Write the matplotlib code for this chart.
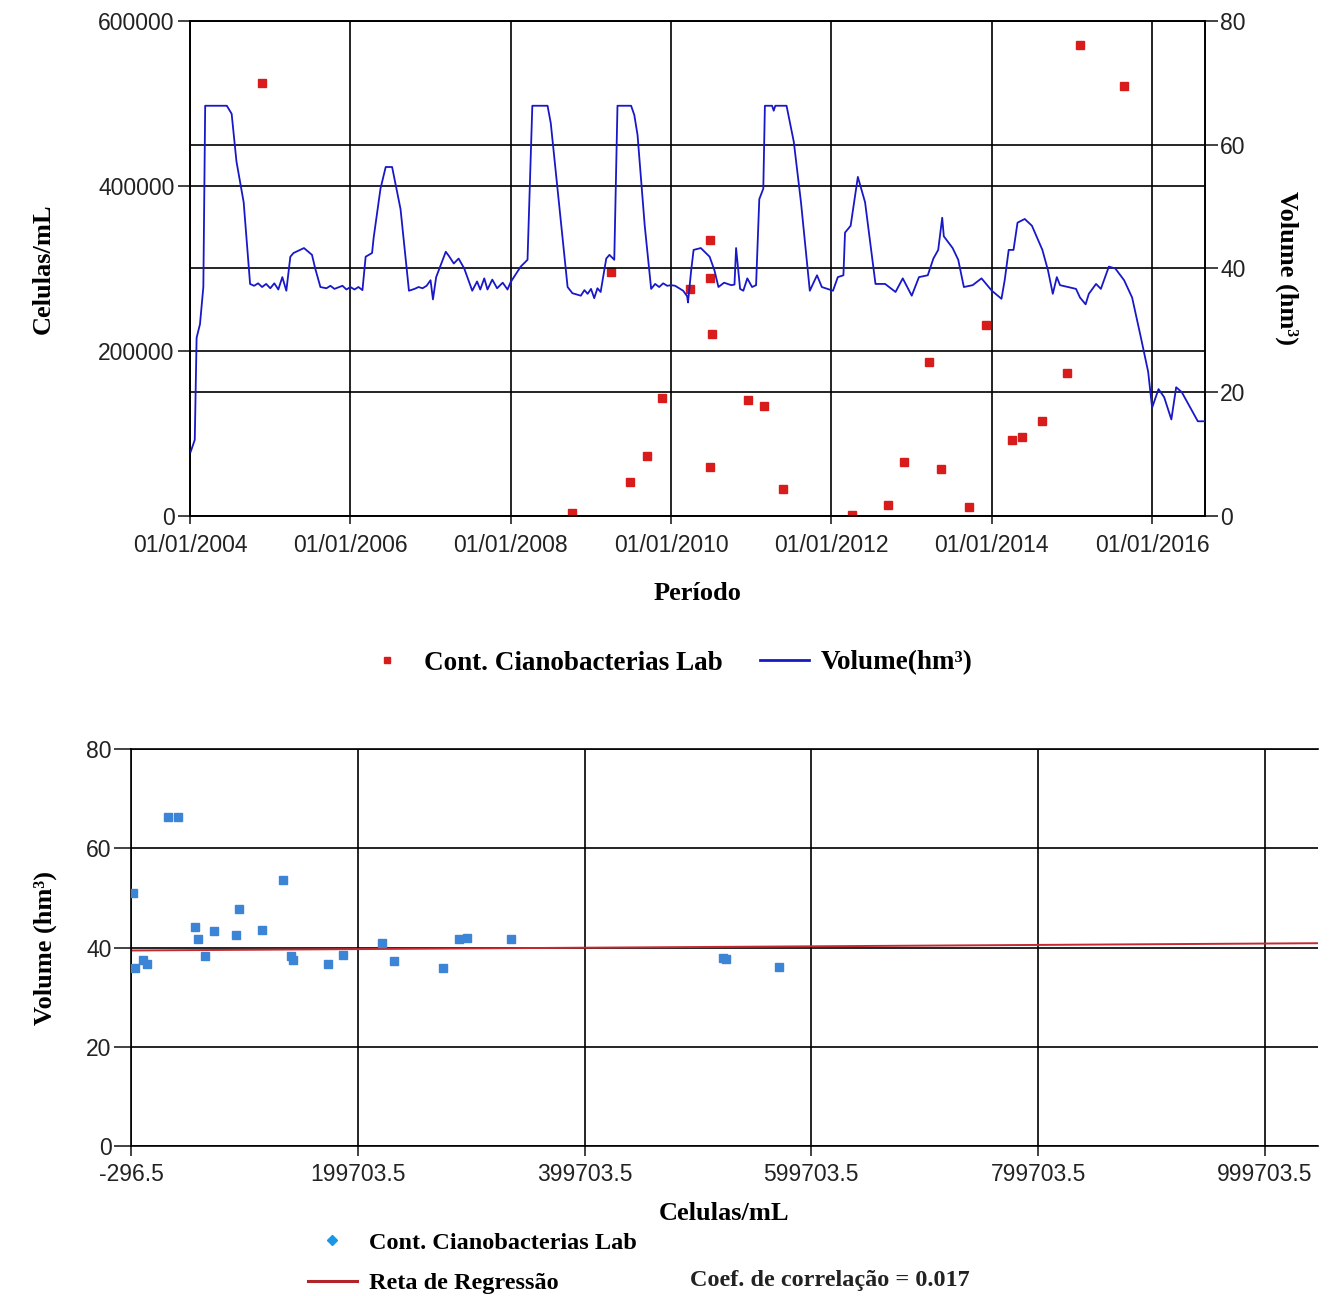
import matplotlib
matplotlib.use("Agg")
import matplotlib.pyplot as plt
import matplotlib.dates as mdates
from matplotlib.lines import Line2D
from matplotlib.ticker import FuncFormatter
from datetime import datetime, timedelta

# Volume trace (hm3), decimal years
vol_year = [2004.01, 2004.06, 2004.083, 2004.125, 2004.167, 2004.19, 2004.46, 2004.52, 2004.58, 2004.67,
            2004.75, 2004.8, 2004.85, 2004.9, 2004.95, 2005.0, 2005.05, 2005.1, 2005.15, 2005.2,
            2005.25, 2005.29, 2005.42, 2005.52, 2005.56, 2005.625, 2005.7, 2005.75, 2005.8, 2005.9,
            2005.95, 2006.0, 2006.05, 2006.1, 2006.15, 2006.19, 2006.27, 2006.29, 2006.375, 2006.44,
            2006.52, 2006.625, 2006.73, 2006.8, 2006.85, 2006.9, 2006.95, 2007.0, 2007.03, 2007.07,
            2007.19, 2007.23, 2007.29, 2007.35, 2007.42, 2007.52, 2007.58, 2007.62, 2007.67, 2007.71,
            2007.77, 2007.83, 2007.9, 2007.96, 2008.0, 2008.125, 2008.21, 2008.27, 2008.46, 2008.5,
            2008.58, 2008.71, 2008.77, 2008.875, 2008.92, 2008.96, 2009.0, 2009.04, 2009.08, 2009.12,
            2009.19, 2009.23, 2009.29, 2009.33, 2009.5, 2009.54, 2009.58, 2009.67, 2009.75, 2009.8,
            2009.85, 2009.9, 2009.95, 2010.0, 2010.05, 2010.1, 2010.15, 2010.2, 2010.21, 2010.25,
            2010.28, 2010.37, 2010.48, 2010.54, 2010.59, 2010.66, 2010.75, 2010.79, 2010.81, 2010.86,
            2010.9, 2010.95, 2011.01, 2011.06, 2011.1, 2011.15, 2011.17, 2011.26, 2011.28, 2011.3,
            2011.44, 2011.53, 2011.62, 2011.73, 2011.82, 2011.88, 2012.02, 2012.08, 2012.15, 2012.17,
            2012.24, 2012.33, 2012.42, 2012.55, 2012.67, 2012.8, 2012.89, 2013.0, 2013.09, 2013.2,
            2013.27, 2013.33, 2013.38, 2013.4, 2013.51, 2013.58, 2013.65, 2013.76, 2013.87, 2014.0,
            2014.12, 2014.16, 2014.21, 2014.27, 2014.32, 2014.41, 2014.5, 2014.63, 2014.7, 2014.76,
            2014.81, 2014.85, 2015.05, 2015.1, 2015.17, 2015.21, 2015.3, 2015.36, 2015.46, 2015.54,
            2015.65, 2015.75, 2015.86, 2015.95, 2016.0, 2016.08, 2016.15, 2016.24, 2016.3, 2016.37,
            2016.57, 2016.66]
vol_value = [10.4, 12.3, 28.8, 31.0, 37.0, 66.3, 66.3, 65.0, 57.3, 50.7,
             37.5, 37.2, 37.6, 37.0, 37.5, 36.8, 37.6, 36.6, 38.6, 36.4,
             41.9, 42.5, 43.3, 42.2, 40.0, 37.0, 36.8, 37.2, 36.7, 37.2,
             36.6, 37.0, 36.6, 37.0, 36.5, 41.9, 42.5, 45.0, 52.9, 56.4,
             56.4, 49.6, 36.4, 36.7, 37.0, 36.8, 37.2, 38.1, 35.0, 38.6,
             42.7, 42.0, 40.8, 41.6, 40.0, 36.4, 37.9, 36.6, 38.4, 36.6,
             38.2, 36.8, 37.7, 36.6, 37.8, 40.3, 41.4, 66.3, 66.3, 63.5,
             53.4, 37.0, 36.0, 35.6, 36.5, 35.9, 36.7, 35.2, 36.8, 36.2,
             41.6, 42.2, 41.4, 66.3, 66.3, 64.8, 61.6, 46.9, 36.7, 37.5,
             37.0, 37.6, 37.2, 37.3, 37.2, 36.8, 36.4, 35.5, 34.5, 39.7,
             43.0, 43.3, 41.9, 39.7, 37.0, 37.7, 37.3, 37.4, 43.3, 36.7,
             36.4, 38.4, 37.0, 37.3, 51.2, 52.9, 66.3, 66.3, 65.5, 66.3,
             66.3, 60.5, 50.7, 36.4, 38.9, 37.0, 36.4, 38.6, 38.9, 45.8,
             46.9, 54.8, 50.7, 37.5, 37.5, 36.2, 38.4, 35.6, 38.6, 38.9,
             41.6, 43.0, 48.2, 45.2, 43.3, 41.4, 37.0, 37.3, 38.4, 36.4,
             35.1, 38.1, 43.0, 43.0, 47.4, 48.0, 46.9, 43.0, 39.7, 35.9,
             38.6, 37.3, 36.7, 35.3, 34.2, 35.9, 37.5, 36.7, 40.3, 40.0,
             38.1, 35.3, 28.8, 23.3, 17.5, 20.5, 19.2, 15.6, 20.8, 20.0,
             15.3, 15.3]

# Lab cyanobacteria samples: date, cells/mL, reservoir volume on that date
sample_year = [2004.90, 2008.77, 2009.25, 2009.48, 2009.70, 2009.88, 2010.23, 2010.49, 2010.49,
               2010.51, 2010.49, 2010.96, 2011.16, 2011.40, 2012.26, 2012.71, 2012.90, 2013.21,
               2013.37, 2013.72, 2013.92, 2014.25, 2014.37, 2014.62, 2014.94, 2015.10, 2015.65]
sample_cells = [524800, 3254, 295578, 41127, 73081, 142907, 274670, 335028, 288872,
                220622, 58879, 140540, 133439, 32053, 1676, 13510, 64797, 186696,
                56512, 10354, 231668, 92017, 95173, 114898, 173283, 571100, 521700]
sample_vol = [37.6, 35.9, 42.0, 66.2, 43.3, 37.5, 35.9, 41.8, 41.8,
              40.9, 41.8, 38.2, 53.6, 66.2, 51.0, 36.7, 38.2, 38.4,
              44.1, 37.4, 37.2, 42.6, 47.7, 43.6, 36.7, 36.0, 37.8]

# regression line
reg_intercept = 39.4
reg_slope = 1.4e-6
corr_coef = 0.017

date_ticks = [2004, 2006, 2008, 2010, 2012, 2014, 2016]
cell_ticks = [-296.5, 199703.5, 399703.5, 599703.5, 799703.5, 999703.5]


def to_dates(years):
    out = []
    for y in years:
        out.append(datetime(int(y), 1, 1) + timedelta(days=(y - int(y)) * 365.25))
    return out


serif = "Liberation Serif"
sans = "Liberation Sans"
plt.rcParams["font.family"] = sans

fig = plt.figure(figsize=(13.33, 12.96), dpi=100)

# ---- top chart: time series ----
ax = fig.add_axes([0.1425, 0.6019, 0.7615, 0.3819])
ax2 = ax.twinx()

ax.plot(to_dates(sample_year), sample_cells, "s", color="#d81c1c", ms=6, zorder=3)
ax2.plot(to_dates(vol_year), vol_value, color="#1818c8", lw=1.3, zorder=3)

ax.set_ylim(0, 600000)
ax.set_yticks([0, 200000, 400000, 600000])
ax.yaxis.set_major_formatter(FuncFormatter(lambda v, p: "%d" % v))
ax2.set_ylim(0, 80)
ax2.set_yticks([0, 20, 40, 60, 80])
ax.set_xlim(datetime(2004, 1, 1), to_dates([2016.66])[0])
ax.set_xticks([datetime(y, 1, 1) for y in date_ticks])
ax.xaxis.set_major_formatter(mdates.DateFormatter("%d/%m/%Y"))

ax.grid(True, color="black", lw=1.2)
ax2.grid(True, axis="y", color="black", lw=1.2)
ax.set_axisbelow(True)
ax2.set_axisbelow(True)
for a in (ax, ax2):
    for s in a.spines.values():
        s.set_color("black")
        s.set_linewidth(1.2)
    a.tick_params(labelsize=16.5, length=9, width=1.2, pad=2, colors="#222222")
ax.tick_params(axis="x", length=6, pad=7)

ax.set_ylabel("Celulas/mL", family=serif, weight="bold", fontsize=19, labelpad=31)
ax2.set_ylabel("Volume (hm³)", family=serif, weight="bold", fontsize=19, rotation=-90, labelpad=38)
ax.set_xlabel("Período", family=serif, weight="bold", fontsize=19, labelpad=18)

top_handles = [Line2D([], [], ls="none", marker="s", color="#d81c1c", ms=5),
               Line2D([], [], color="#1818c8", lw=2)]
fig.legend(top_handles, ["Cont. Cianobacterias Lab", "Volume(hm³)"], loc="center",
           bbox_to_anchor=(0.501, 0.4884), ncol=2, frameon=False,
           prop={"family": serif, "weight": "bold", "size": 19.5}, columnspacing=1.4,
           handlelength=1.8, handletextpad=0.45)

# ---- bottom chart: scatter + regression ----
bx = fig.add_axes([0.0983, 0.1157, 0.8904, 0.3064])
bx.plot(sample_cells, sample_vol, "s", color="#3b84d6", ms=6, zorder=3)
xr = [-296.5, 1046500]
bx.plot(xr, [reg_intercept + reg_slope * x for x in xr], color="#c42a30", lw=1.4, zorder=2.5)

bx.set_xlim(xr)
bx.set_ylim(0, 80)
bx.set_xticks(cell_ticks)
bx.xaxis.set_major_formatter(FuncFormatter(lambda v, p: "%.1f" % v))
bx.set_yticks([0, 20, 40, 60, 80])
bx.grid(True, color="black", lw=1.2)
bx.set_axisbelow(True)
bx.spines["right"].set_visible(False)
for s in ("left", "bottom", "top"):
    bx.spines[s].set_color("black")
    bx.spines[s].set_linewidth(1.2)
bx.tick_params(labelsize=16.5, length=12, width=1.2, pad=2, colors="#222222")
bx.tick_params(axis="x", length=7, pad=5)

bx.set_xlabel("Celulas/mL", family=serif, weight="bold", fontsize=19, labelpad=12)
bx.set_ylabel("Volume (hm³)", family=serif, weight="bold", fontsize=19, labelpad=21)

bot_handles = [Line2D([], [], ls="none", marker="D", color="#1a96e6", ms=5),
               Line2D([], [], color="#b0242a", lw=2.2)]
fig.legend(bot_handles, ["Cont. Cianobacterias Lab", "Reta de Regressão"], loc="upper left",
           bbox_to_anchor=(0.231, 0.0495), frameon=False, borderaxespad=0, borderpad=0,
           prop={"family": serif, "weight": "bold", "size": 17.5}, labelspacing=0.75,
           handlelength=2.0, handletextpad=0.5)
fig.text(0.5176, 0.0123, "Coef. de correlação = %.3f" % corr_coef, family=serif,
         weight="bold", fontsize=17.5, color="#222222", va="center", ha="left")

fig.savefig("out.png", dpi=100)
